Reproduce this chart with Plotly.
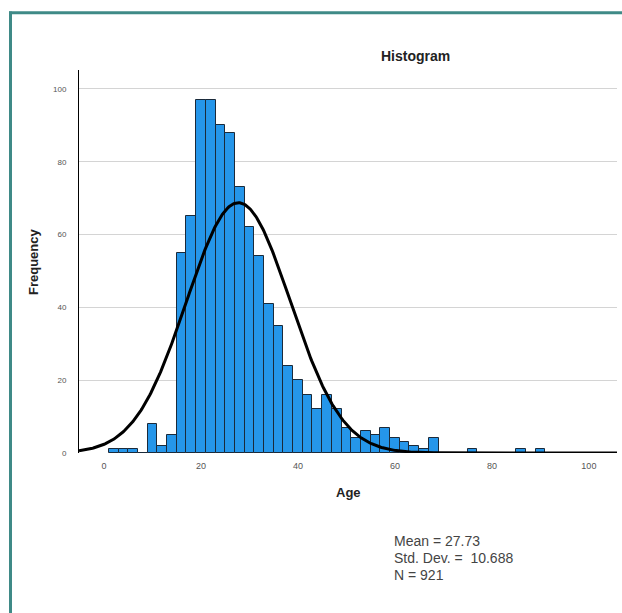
import numpy as np
import plotly.graph_objects as go

# Histogram data (bin width 2, bins starting at 1)
bin_centers = [2, 4, 6, 8, 10, 12, 14, 16, 18, 20, 22, 24, 26, 28, 30, 32, 34, 36, 38, 40,
               42, 44, 46, 48, 50, 52, 54, 56, 58, 60, 62, 64, 66, 68, 76, 86, 90]
counts = [1, 1, 1, 0, 8, 2, 5, 55, 65, 97, 97, 90, 88, 73, 62, 54, 41, 35, 24, 20,
          16, 12, 16, 12, 7, 4, 6, 5, 7, 4, 3, 2, 1, 4, 1, 1, 1]
BIN_WIDTH = 2
MEAN = 27.73
SD = 10.688
N = 921
x_ticks = [0, 20, 40, 60, 80, 100]
y_ticks = [0, 20, 40, 60, 80, 100]

W, H = 622, 613
L, R, T, B = 79, 5, 70, 160
XR = [-5.15, 105.8]
YR = [0, 105.2]

# fitted normal curve from summary statistics
xc = np.linspace(XR[0], XR[1], 600)
yc = N * BIN_WIDTH / (SD * np.sqrt(2 * np.pi)) * np.exp(-0.5 * ((xc - MEAN) / SD) ** 2)

fig = go.Figure()
fig.add_trace(go.Bar(x=bin_centers, y=counts, width=BIN_WIDTH,
                     marker=dict(color="#2596ea", line=dict(color="#1b2a3a", width=1)),
                     hoverinfo="x+y"))
fig.add_trace(go.Scatter(x=xc, y=yc, mode="lines",
                         line=dict(color="black", width=3), hoverinfo="skip"))

pw = W - L - R
ph = H - T - B

def px2paper_x(px):
    return (px - L) / pw

def px2paper_y(py):
    return (H - B - py) / ph

fig.update_layout(
    width=W, height=H,
    margin=dict(l=L, r=R, t=T, b=B, pad=0),
    paper_bgcolor="white", plot_bgcolor="white",
    showlegend=False,
    bargap=0,
    font=dict(family="Arial, Liberation Sans, sans-serif", color="#222"),
    xaxis=dict(range=XR, tickvals=x_ticks, showgrid=False, zeroline=False,
               showline=False, ticks="", ticklabelstandoff=6,
               tickfont=dict(size=9, color="#555"), fixedrange=True),
    yaxis=dict(range=YR, tickvals=y_ticks, showgrid=True, gridcolor="#d4d4d4",
               gridwidth=1, zeroline=False, showline=True, linecolor="black",
               linewidth=1, ticks="", ticklabelstandoff=10,
               tickfont=dict(size=8, color="#555"), fixedrange=True),
)

ann = [
    dict(text="<b>Histogram</b>", x=px2paper_x(415), y=px2paper_y(56),
         font=dict(size=14, color="#222")),
    dict(text="<b>Frequency</b>", x=px2paper_x(33), y=px2paper_y(262), textangle=-90,
         font=dict(size=13, color="#222")),
    dict(text="<b>Age</b>", x=px2paper_x(348), y=px2paper_y(492),
         font=dict(size=13, color="#222")),
    dict(text=f"Mean = {MEAN:.2f}", x=px2paper_x(392), y=px2paper_y(541), xanchor="left",
         font=dict(size=14, color="#444")),
    dict(text=f"Std. Dev. =  {SD:.3f}", x=px2paper_x(392), y=px2paper_y(558), xanchor="left",
         font=dict(size=14, color="#444")),
    dict(text=f"N = {N}", x=px2paper_x(392), y=px2paper_y(575), xanchor="left",
         font=dict(size=14, color="#444")),
]
for a in ann:
    a.setdefault("xanchor", "center")
    fig.add_annotation(xref="paper", yref="paper", yanchor="middle", showarrow=False, **a)

# teal frame (left and top edges)
fig.add_shape(type="line", xref="paper", yref="paper",
              x0=px2paper_x(10.5), x1=px2paper_x(10.5), y0=px2paper_y(11.5), y1=px2paper_y(613),
              line=dict(color="#3f8a87", width=3))
fig.add_shape(type="line", xref="paper", yref="paper",
              x0=px2paper_x(9), x1=px2paper_x(622), y0=px2paper_y(12.8), y1=px2paper_y(12.8),
              line=dict(color="#3f8a87", width=3))

fig.write_html("out.html")
